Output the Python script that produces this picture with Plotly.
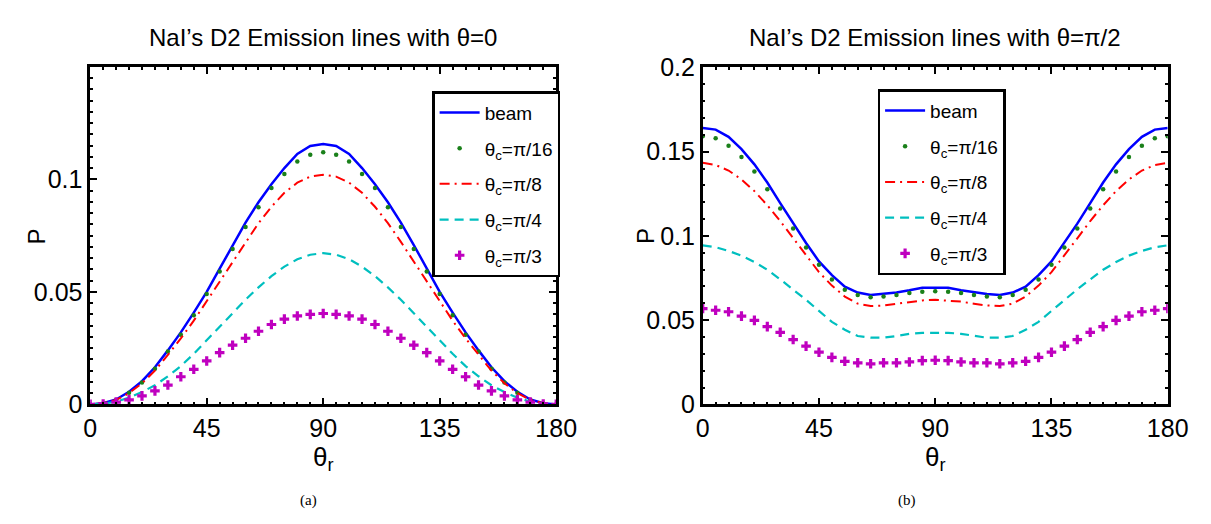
import plotly.graph_objects as go

theta_r = [0, 5, 10, 15, 20, 25, 30, 35, 40, 45, 50, 55, 60, 65, 70, 75, 80, 85, 90,
           95, 100, 105, 110, 115, 120, 125, 130, 135, 140, 145, 150, 155, 160, 165, 170, 175, 180]

# ---- (a) theta = 0 ----
beam_a = [0, 0.0005, 0.0022, 0.0056, 0.0103, 0.0165, 0.0240, 0.0320, 0.0408, 0.0500, 0.0603, 0.0708,
          0.0808, 0.0898, 0.0978, 0.1050, 0.1113, 0.1148, 0.1157,
          0.1148, 0.1113, 0.1050, 0.0978, 0.0898, 0.0808, 0.0708, 0.0603, 0.0500, 0.0408, 0.0320,
          0.0240, 0.0165, 0.0103, 0.0056, 0.0022, 0.0005, 0]
pi16_a = [0, 0.0004, 0.0020, 0.0052, 0.0097, 0.0158, 0.0235, 0.0309, 0.0396, 0.0490, 0.0590, 0.0690,
          0.0788, 0.0876, 0.0961, 0.1024, 0.1079, 0.1109, 0.1120,
          0.1109, 0.1079, 0.1024, 0.0961, 0.0876, 0.0788, 0.0690, 0.0590, 0.0490, 0.0396, 0.0309,
          0.0235, 0.0158, 0.0097, 0.0052, 0.0020, 0.0004, 0]
pi8_a = [0, 0.0005, 0.0020, 0.0050, 0.0094, 0.0150, 0.0220, 0.0293, 0.0372, 0.0458, 0.0546, 0.0636,
         0.0722, 0.0805, 0.0878, 0.0940, 0.0985, 0.1012, 0.1020,
         0.1012, 0.0985, 0.0940, 0.0878, 0.0805, 0.0722, 0.0636, 0.0546, 0.0458, 0.0372, 0.0293,
         0.0220, 0.0150, 0.0094, 0.0050, 0.0020, 0.0005, 0]
pi4_a = [0, 0.0003, 0.0012, 0.0030, 0.0055, 0.0085, 0.0125, 0.0170, 0.0225, 0.0285, 0.0345, 0.0405,
         0.0465, 0.0520, 0.0570, 0.0612, 0.0645, 0.0665, 0.0672,
         0.0665, 0.0645, 0.0612, 0.0570, 0.0520, 0.0465, 0.0405, 0.0345, 0.0285, 0.0225, 0.0170,
         0.0125, 0.0085, 0.0055, 0.0030, 0.0012, 0.0003, 0]
pi3_a = [0, 0.0002, 0.0010, 0.0020, 0.0038, 0.0060, 0.0086, 0.0123, 0.0156, 0.0193, 0.0230, 0.0263,
         0.0294, 0.0325, 0.0355, 0.0379, 0.0393, 0.0400, 0.0404,
         0.0400, 0.0393, 0.0379, 0.0355, 0.0325, 0.0294, 0.0263, 0.0230, 0.0193, 0.0156, 0.0123,
         0.0086, 0.0060, 0.0038, 0.0020, 0.0010, 0.0002, 0]

# ---- (b) theta = pi/2 ----
beam_b = [0.1640, 0.1631, 0.1588, 0.1515, 0.1425, 0.1317, 0.1195, 0.1073, 0.0958, 0.0849, 0.0767, 0.0699,
          0.0664, 0.0649, 0.0655, 0.0664, 0.0677, 0.0692, 0.0692,
          0.0692, 0.0677, 0.0664, 0.0655, 0.0649, 0.0664, 0.0699, 0.0767, 0.0849, 0.0958, 0.1073,
          0.1195, 0.1317, 0.1425, 0.1515, 0.1588, 0.1631, 0.1640]
pi16_b = [0.1592, 0.1580, 0.1535, 0.1468, 0.1382, 0.1277, 0.1163, 0.1044, 0.0931, 0.0829, 0.0742, 0.0681,
          0.0649, 0.0636, 0.0640, 0.0649, 0.0662, 0.0668, 0.0671,
          0.0668, 0.0662, 0.0649, 0.0640, 0.0636, 0.0649, 0.0681, 0.0742, 0.0829, 0.0931, 0.1044,
          0.1163, 0.1277, 0.1382, 0.1468, 0.1535, 0.1580, 0.1592]
pi8_b = [0.1434, 0.1421, 0.1388, 0.1335, 0.1266, 0.1182, 0.1088, 0.0986, 0.0883, 0.0785, 0.0705, 0.0640,
         0.0598, 0.0584, 0.0587, 0.0598, 0.0610, 0.0617, 0.0621,
         0.0617, 0.0610, 0.0598, 0.0587, 0.0584, 0.0598, 0.0640, 0.0705, 0.0785, 0.0883, 0.0986,
         0.1088, 0.1182, 0.1266, 0.1335, 0.1388, 0.1421, 0.1434]
pi4_b = [0.0944, 0.0933, 0.0911, 0.0883, 0.0845, 0.0799, 0.0742, 0.0683, 0.0621, 0.0555, 0.0490, 0.0443,
         0.0406, 0.0396, 0.0396, 0.0406, 0.0419, 0.0425, 0.0425,
         0.0425, 0.0419, 0.0406, 0.0396, 0.0396, 0.0406, 0.0443, 0.0490, 0.0555, 0.0621, 0.0683,
         0.0742, 0.0799, 0.0845, 0.0883, 0.0911, 0.0933, 0.0944]
pi3_b = [0.0569, 0.0559, 0.0550, 0.0524, 0.0499, 0.0462, 0.0428, 0.0385, 0.0346, 0.0310, 0.0279, 0.0256,
         0.0247, 0.0241, 0.0247, 0.0247, 0.0252, 0.0260, 0.0262,
         0.0260, 0.0252, 0.0247, 0.0247, 0.0241, 0.0247, 0.0256, 0.0279, 0.0310, 0.0346, 0.0385,
         0.0428, 0.0462, 0.0499, 0.0524, 0.0550, 0.0559, 0.0569]

names = ["beam", "θ<sub>c</sub>=π/16", "θ<sub>c</sub>=π/8", "θ<sub>c</sub>=π/4", "θ<sub>c</sub>=π/3"]
x_ticks = [0, 45, 90, 135, 180]
y_ticks_a = [0, 0.05, 0.1]
y_ticks_b = [0, 0.05, 0.1, 0.15, 0.2]
titles = ["NaI’s D2 Emission lines with θ=0", "NaI’s D2 Emission lines with θ=π/2"]
captions = ["(a)", "(b)"]

FONT = "Liberation Sans, Arial, sans-serif"
W, H = 1211, 524


def px(x):
    return x / W


def py(y):
    return 1 - y / H


fig = go.Figure()


def add_set(series, xa, ya, legend, grp):
    b, g, r, c, m = series
    common = dict(x=theta_r, xaxis=xa, yaxis=ya, legend=legend)
    fig.add_trace(go.Scatter(y=b, mode="lines", name=names[0], legendgroup=grp + "0",
                             line=dict(color="#0000ff", width=2.5), **common))
    fig.add_trace(go.Scatter(y=g, mode="markers", name=names[1], legendgroup=grp + "1",
                             marker=dict(color="#1a801a", size=4.5, symbol="circle"), **common))
    fig.add_trace(go.Scatter(y=r, mode="lines", name=names[2], legendgroup=grp + "2",
                             line=dict(color="#ff0000", width=2, dash="10px,5px,2px,5px"), **common))
    fig.add_trace(go.Scatter(y=c, mode="lines", name=names[3], legendgroup=grp + "3",
                             line=dict(color="#00bfbf", width=2.2, dash="9px,6px"), **common))
    fig.add_trace(go.Scatter(y=m, mode="markers", name=names[4], legendgroup=grp + "4",
                             marker=dict(color="#bf00bf", size=8, symbol="cross", line=dict(width=0)),
                             **common))


add_set([beam_a, pi16_a, pi8_a, pi4_a, pi3_a], "x", "y", "legend", "a")
add_set([beam_b, pi16_b, pi8_b, pi4_b, pi3_b], "x2", "y2", "legend2", "b")

xl, xr = 77, 554
xl2, xr2 = 704, 1180
yt, yb = 48, 404

axis_common = dict(showline=True, linecolor="black", linewidth=2.5, mirror="ticks",
                   ticks="inside", ticklen=7, tickwidth=1.5, tickcolor="black",
                   showgrid=False, zeroline=False,
                   tickfont=dict(family=FONT, size=25, color="black"))
minor_x = dict(dtick=5, ticks="inside", ticklen=3, tickcolor="black", tickwidth=1.5)

legend_common = dict(xanchor="left", yanchor="top", bgcolor="white", bordercolor="black",
                     borderwidth=2.5, font=dict(family=FONT, size=19, color="black"),
                     itemwidth=40, tracegroupgap=8)

fig.update_layout(
    width=W, height=H,
    margin=dict(l=0, r=0, t=0, b=0),
    paper_bgcolor="white", plot_bgcolor="white",
    showlegend=True,
    xaxis=dict(domain=[px(xl), px(xr)], range=[0, 180], tickvals=x_ticks,
               ticktext=[str(v) for v in x_ticks], anchor="y", minor=minor_x, **axis_common),
    yaxis=dict(domain=[py(yb), py(yt)], range=[0, 0.1497], tickvals=y_ticks_a,
               ticktext=["0", "0.05", "0.1"], anchor="x",
               minor=dict(dtick=0.005, ticks="inside", ticklen=3, tickcolor="black", tickwidth=1.5),
               **axis_common),
    xaxis2=dict(domain=[px(xl2), px(xr2)], range=[0, 180], tickvals=x_ticks,
                ticktext=[str(v) for v in x_ticks], anchor="y2", minor=minor_x, **axis_common),
    yaxis2=dict(domain=[py(yb), py(yt)], range=[0, 0.2], tickvals=y_ticks_b,
                ticktext=["0", "0.05", "0.1", "0.15", "0.2"], anchor="x2",
                minor=dict(dtick=0.01, ticks="inside", ticklen=3, tickcolor="black", tickwidth=1.5),
                **axis_common),
    legend=dict(x=px(427), y=py(73), **legend_common),
    legend2=dict(x=px(883), y=py(71), **legend_common),
)

ann = []
for txt, xc in zip(titles, [(xl + xr) / 2, (xl2 + xr2) / 2]):
    ann.append(dict(text=txt, x=px(xc), y=py(16), xref="paper", yref="paper",
                    xanchor="center", yanchor="middle", showarrow=False,
                    font=dict(family=FONT, size=24, color="black")))
for xc in [(xl + xr) / 2, (xl2 + xr2) / 2]:
    ann.append(dict(text="θ<sub>r</sub>", x=px(xc), y=py(461), xref="paper", yref="paper",
                    xanchor="center", yanchor="middle", showarrow=False,
                    font=dict(family=FONT, size=26, color="black")))
for xc in [22, 646]:
    ann.append(dict(text="P", x=px(xc), y=py(226), xref="paper", yref="paper",
                    xanchor="center", yanchor="middle", showarrow=False, textangle=-90,
                    font=dict(family=FONT, size=24, color="black")))
for txt, xc in zip(captions, [300, 913]):
    ann.append(dict(text=txt, x=px(xc), y=py(506), xref="paper", yref="paper",
                    xanchor="center", yanchor="middle", showarrow=False,
                    font=dict(family="Liberation Serif, Times New Roman, serif", size=15, color="black")))
fig.update_layout(annotations=ann)

fig.write_html("out.html")
